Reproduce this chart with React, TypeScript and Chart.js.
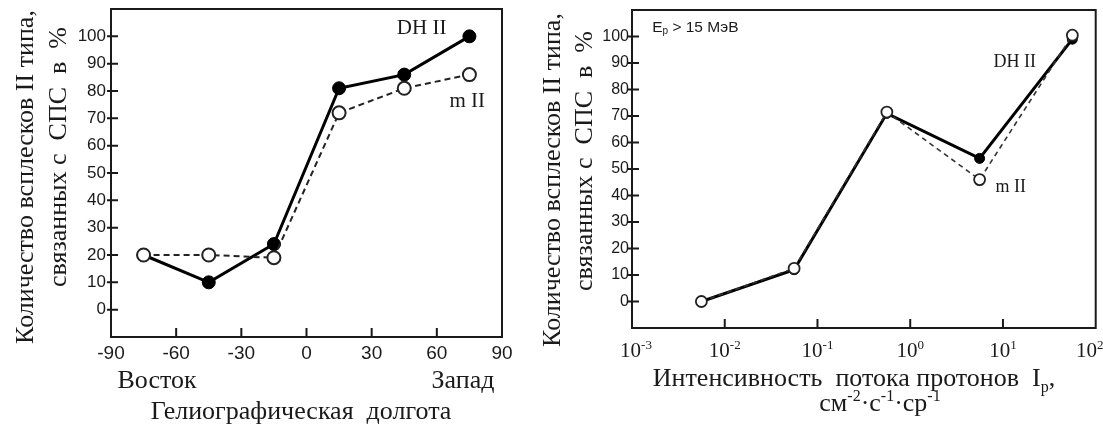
import React, { useEffect, useRef } from "react";
import { Chart, registerables } from "chart.js";

Chart.register(...registerables);

// ---------- Left chart: heliographic longitude ----------
const LONGITUDE = [-75, -45, -15, 15, 45, 75];
const LON_DH = [20, 10, 24, 81, 86, 100];
const LON_M = [20, 20, 19, 72, 81, 86];
const LON_TICKS = [-90, -60, -30, 0, 30, 60, 90];

// ---------- Right chart: proton flux ----------
const FLUX = [0.0056, 0.056, 0.56, 5.6, 56];
const FLUX_DH = [0, 12, 71, 54, 99];
const FLUX_M = [0, 12.5, 71.5, 46, 100.5];
const FLUX_TICKS = [1e-3, 1e-2, 1e-1, 1, 10, 100];
const FLUX_TICK_EXPONENTS = ["-3", "-2", "-1", "0", "1", "2"];

// shared percent axis
const PCT_TICKS = [0, 10, 20, 30, 40, 50, 60, 70, 80, 90, 100];

const SERIF = "'Liberation Serif', 'Times New Roman', serif";
const SANS = "'Liberation Sans', Arial, sans-serif";
const NARROW = "'Liberation Sans Narrow', 'Liberation Sans', Arial, sans-serif";
const INK = "#1a1a1a";

type Seg = { t: string; v?: "sup" | "sub" };
type Note = {
  segs: Seg[];
  x: number;
  y: number;
  size: number;
  family: string;
  align?: "left" | "center";
  rotate?: boolean;
  data?: boolean;
  baseline?: "middle" | "alphabetic";
};

function drawRich(ctx: CanvasRenderingContext2D, n: Note, x: number, y: number) {
  const small = Math.round(n.size * 0.62);
  const widths = n.segs.map((s) => {
    ctx.font = `${s.v ? small : n.size}px ${n.family}`;
    return ctx.measureText(s.t).width;
  });
  const total = widths.reduce((a, b) => a + b, 0);
  ctx.save();
  ctx.translate(x, y);
  if (n.rotate) ctx.rotate(-Math.PI / 2);
  ctx.fillStyle = INK;
  ctx.textAlign = "left";
  ctx.textBaseline = n.baseline || "middle";
  let cx = n.align === "left" ? 0 : -total / 2;
  n.segs.forEach((s, i) => {
    ctx.font = `${s.v ? small : n.size}px ${n.family}`;
    const dy = s.v === "sup" ? -n.size * 0.38 : s.v === "sub" ? n.size * 0.22 : 0;
    ctx.fillText(s.t, cx, dy);
    cx += widths[i];
  });
  ctx.restore();
}

function makeTextPlugin(notes: Note[]) {
  return {
    id: "notes",
    afterDraw(chart: any) {
      const ctx = chart.ctx as CanvasRenderingContext2D;
      notes.forEach((n) => {
        const x = n.data ? chart.scales.x.getPixelForValue(n.x) : n.x;
        const y = n.data ? chart.scales.y.getPixelForValue(n.y) : n.y;
        drawRich(ctx, n, x, y);
      });
    },
  };
}

// frame around the plot and inward tick marks, placed from the scales' own ticks
const framePlugin = {
  id: "frame",
  beforeDatasetsDraw(chart: any) {
    const { ctx, chartArea, scales } = chart;
    ctx.save();
    ctx.strokeStyle = INK;
    ctx.lineWidth = 2;
    ctx.strokeRect(chartArea.left, chartArea.top, chartArea.right - chartArea.left, chartArea.bottom - chartArea.top);
    ctx.beginPath();
    scales.x.ticks.forEach((t: any) => {
      const px = scales.x.getPixelForValue(t.value);
      if (px > chartArea.left + 2 && px < chartArea.right - 2) {
        ctx.moveTo(px, chartArea.bottom);
        ctx.lineTo(px, chartArea.bottom - 9);
      }
    });
    scales.y.ticks.forEach((t: any) => {
      const py = scales.y.getPixelForValue(t.value);
      ctx.moveTo(chartArea.left - 4, py);
      ctx.lineTo(chartArea.left + 7, py);
    });
    ctx.stroke();
    ctx.restore();
  },
};

// log-axis labels with superscript exponents
const fluxLabelPlugin = {
  id: "fluxLabels",
  afterDraw(chart: any) {
    const { ctx, chartArea, scales } = chart;
    scales.x.ticks.forEach((t: any) => {
      const idx = FLUX_TICKS.findIndex((v) => Math.abs(Math.log10(v) - Math.log10(t.value)) < 1e-6);
      if (idx < 0) return;
      let px = scales.x.getPixelForValue(t.value);
      if (idx === FLUX_TICKS.length - 1) px -= 6;
      if (idx === 0) px += 4;
      drawRich(
        ctx,
        {
          segs: [{ t: "10" }, { t: FLUX_TICK_EXPONENTS[idx], v: "sup" }],
          x: 0,
          y: 0,
          size: 21,
          family: SERIF,
          baseline: "alphabetic",
        },
        px,
        chartArea.bottom + 29
      );
    });
  },
};

function hiddenGrid() {
  return {
    display: true,
    drawOnChartArea: false,
    drawTicks: true,
    tickLength: -8,
    color: "rgba(0,0,0,0)",
    lineWidth: 0,
  };
}

function yScale(width: number, font: any, padding: number) {
  return {
    type: "linear",
    min: -10,
    max: 110,
    afterBuildTicks: (s: any) => {
      s.ticks = PCT_TICKS.map((value) => ({ value }));
    },
    afterFit: (s: any) => {
      s.width = width;
      s.paddingTop = 0;
      s.paddingBottom = 0;
    },
    ticks: { font, color: INK, padding, autoSkip: false },
    grid: hiddenGrid(),
    border: { display: false },
  };
}

function leftConfig(): any {
  const notes: Note[] = [
    { segs: [{ t: "Количество всплесков II типа," }], x: 26, y: 177, size: 26, family: SERIF, rotate: true },
    { segs: [{ t: "связанных с  СПС  в  %" }], x: 59, y: 157, size: 26, family: SERIF, rotate: true },
    { segs: [{ t: "Восток" }], x: 157, y: 388, size: 26, family: SERIF, baseline: "alphabetic" },
    { segs: [{ t: "Запад" }], x: 463, y: 388, size: 26, family: SERIF, baseline: "alphabetic" },
    { segs: [{ t: "Гелиографическая  долгота" }], x: 301, y: 419, size: 26, family: SERIF, baseline: "alphabetic" },
    { segs: [{ t: "DH II" }], x: 53, y: 102.7, size: 21, family: SERIF, data: true },
    { segs: [{ t: "m II" }], x: 74, y: 76, size: 21, family: SERIF, data: true },
  ];
  return {
    type: "scatter",
    data: {
      datasets: [
        {
          label: "m II",
          data: LONGITUDE.map((x, i) => ({ x, y: LON_M[i] })),
          showLine: true,
          borderColor: "#222",
          borderWidth: 2,
          borderDash: [6, 4],
          pointRadius: 6.5,
          pointBorderWidth: 2,
          pointBackgroundColor: "#fff",
          pointBorderColor: "#222",
        },
        {
          label: "DH II",
          data: LONGITUDE.map((x, i) => ({ x, y: LON_DH[i] })),
          showLine: true,
          borderColor: "#000",
          borderWidth: 3,
          pointRadius: 6.5,
          pointBorderWidth: 1,
          pointBackgroundColor: "#000",
          pointBorderColor: "#000",
        },
      ],
    },
    options: {
      animation: false,
      responsive: false,
      events: [],
      layout: { padding: { left: 0, top: 9, right: 48, bottom: 0 } },
      plugins: { legend: { display: false }, tooltip: { enabled: false } },
      scales: {
        x: {
          type: "linear",
          min: -90,
          max: 90,
          afterBuildTicks: (s: any) => {
            s.ticks = LON_TICKS.map((value) => ({ value }));
          },
          afterFit: (s: any) => {
            s.height = 88;
            s.paddingLeft = 0;
            s.paddingRight = 0;
          },
          ticks: { font: { family: SANS, size: 19 }, color: INK, padding: 13, maxRotation: 0, autoSkip: false },
          grid: hiddenGrid(),
          border: { display: false },
        },
        y: yScale(111, { family: SANS, size: 17 }, 13),
      },
    },
    plugins: [framePlugin, makeTextPlugin(notes)],
  };
}

function rightConfig(): any {
  const notes: Note[] = [
    { segs: [{ t: "Количество всплесков II типа," }], x: 13, y: 180, size: 26, family: SERIF, rotate: true },
    { segs: [{ t: "связанных с  СПС  в  %" }], x: 45, y: 161, size: 26, family: SERIF, rotate: true },
    {
      segs: [{ t: "Интенсивность  потока протонов  I" }, { t: "p", v: "sub" }, { t: "," }],
      x: 314, y: 386, size: 26, family: SERIF, baseline: "alphabetic",
    },
    {
      segs: [{ t: "см" }, { t: "-2", v: "sup" }, { t: "·с" }, { t: "-1", v: "sup" }, { t: "·ср" }, { t: "-1", v: "sup" }],
      x: 340, y: 411, size: 26, family: SERIF, baseline: "alphabetic",
    },
    { segs: [{ t: "DH II" }], x: 13.4, y: 90.4, size: 18, family: SERIF, data: true },
    { segs: [{ t: "m II" }], x: 12.1, y: 43.2, size: 18, family: SERIF, data: true },
    {
      segs: [{ t: "E" }, { t: "p", v: "sub" }, { t: " > 15 МэВ" }],
      x: 0.00165, y: 103.2, size: 15.5, family: NARROW, data: true, align: "left",
    },
  ];
  return {
    type: "scatter",
    data: {
      datasets: [
        {
          label: "m II",
          data: FLUX.map((x, i) => ({ x, y: FLUX_M[i] })),
          showLine: true,
          borderColor: "#333",
          borderWidth: 1.6,
          borderDash: [5, 4],
          pointRadius: 5.5,
          pointBorderWidth: 1.8,
          pointBackgroundColor: "#fff",
          pointBorderColor: "#222",
        },
        {
          label: "DH II",
          data: FLUX.map((x, i) => ({ x, y: FLUX_DH[i] })),
          showLine: true,
          borderColor: "#000",
          borderWidth: 3,
          pointRadius: 5,
          pointBorderWidth: 1,
          pointBackgroundColor: "#000",
          pointBorderColor: "#000",
        },
      ],
    },
    options: {
      animation: false,
      responsive: false,
      events: [],
      layout: { padding: { left: 0, top: 10, right: 7, bottom: 0 } },
      plugins: { legend: { display: false }, tooltip: { enabled: false } },
      scales: {
        x: {
          type: "logarithmic",
          min: 1e-3,
          max: 100,
          afterBuildTicks: (s: any) => {
            s.ticks = FLUX_TICKS.map((value) => ({ value }));
          },
          afterFit: (s: any) => {
            s.height = 97;
            s.paddingLeft = 0;
            s.paddingRight = 0;
          },
          ticks: { display: false, autoSkip: false },
          grid: hiddenGrid(),
          border: { display: false },
        },
        y: yScale(92, { family: NARROW, size: 16 }, 11),
      },
    },
    plugins: [framePlugin, fluxLabelPlugin, makeTextPlugin(notes)],
  };
}

function ChartCanvas({ make, left, width }: { make: () => any; left: number; width: number }) {
  const ref = useRef<HTMLCanvasElement>(null);
  useEffect(() => {
    const chart = new Chart(ref.current as HTMLCanvasElement, make());
    return () => chart.destroy();
  }, [make]);
  return (
    <canvas
      ref={ref}
      width={width}
      height={425}
      style={{ position: "absolute", left, top: 0, width, height: 425 }}
    />
  );
}

export default function App() {
  return (
    <div
      style={{
        position: "fixed",
        left: 0,
        top: 0,
        width: 1103,
        height: 425,
        overflow: "hidden",
        background: "#fff",
      }}
    >
      <ChartCanvas make={leftConfig} left={0} width={550} />
      <ChartCanvas make={rightConfig} left={540} width={563} />
    </div>
  );
}
